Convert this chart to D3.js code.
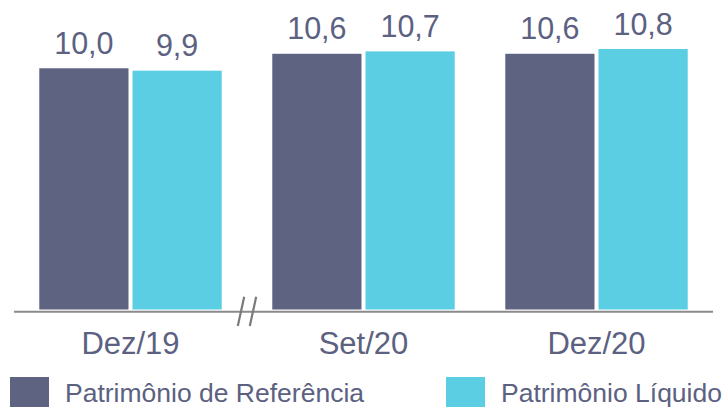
<!DOCTYPE html>
<html>
<head>
<meta charset="utf-8">
<script src="https://cdn.jsdelivr.net/npm/d3@7"></script>
<style>
  html, body { margin: 0; padding: 0; background: #fff; }
  svg { display: block; font-family: "Liberation Sans", Arial, sans-serif; }
</style>
</head>
<body>
<svg id="chart" width="723" height="407"></svg>
<script>
const categories = ["Dez/19", "Set/20", "Dez/20"];
const seriesNames = ["Patrimônio de Referência", "Patrimônio Líquido"];
const patrimonioReferencia = [10.0, 10.6, 10.6];
const patrimonioLiquido = [9.9, 10.7, 10.8];
const colors = ["#5e6381", "#5bcee3"];

const fmt = v => v.toFixed(1).replace(".", ",");
const svg = d3.select("#chart");
const textColor = "#5c6181";

const x0 = d3.scaleBand().domain(categories).range([14, 713]).paddingInner(0.217).paddingOuter(0.1085);
const x1 = d3.scaleBand().domain(seriesNames).range([0, x0.bandwidth()]).paddingInner(0.043).paddingOuter(0);
const y = d3.scaleLinear().domain([0, 12.83]).range([309.5, 0]);

const data = categories.map((c, i) => ({
  cat: c,
  values: [
    { name: seriesNames[0], v: patrimonioReferencia[i], color: colors[0] },
    { name: seriesNames[1], v: patrimonioLiquido[i], color: colors[1] }
  ]
}));

const g = svg.selectAll("g.grp").data(data).join("g")
  .attr("class", "grp")
  .attr("transform", d => `translate(${x0(d.cat)},0)`);

g.selectAll("rect").data(d => d.values).join("rect")
  .attr("x", d => x1(d.name))
  .attr("y", d => y(d.v))
  .attr("width", x1.bandwidth())
  .attr("height", d => y(0) - y(d.v))
  .attr("fill", d => d.color);

g.selectAll("text.val").data(d => d.values).join("text")
  .attr("class", "val")
  .attr("x", d => x1(d.name) + x1.bandwidth() / 2)
  .attr("y", d => y(d.v) - 14.3)
  .attr("text-anchor", "middle")
  .attr("font-size", 30.5)
  .attr("fill", textColor)
  .text(d => fmt(d.v));

// axis line
const axisY = 311.7;
const breakX = x0.range()[0] + x0.step();
svg.append("line")
  .attr("x1", 14).attr("x2", 713)
  .attr("y1", axisY).attr("y2", axisY)
  .attr("stroke", "#8a8a8a").attr("stroke-width", 2);

// break mark
[-6, 6].forEach(dx => {
  svg.append("line")
    .attr("x1", breakX + dx + 3.2).attr("y1", 296.7)
    .attr("x2", breakX + dx - 3.2).attr("y2", 326)
    .attr("stroke", "#7a7a7a").attr("stroke-width", 2.2);
});

// category labels
svg.selectAll("text.cat").data(categories).join("text")
  .attr("class", "cat")
  .attr("x", d => x0(d) + x0.bandwidth() / 2)
  .attr("y", 354)
  .attr("text-anchor", "middle")
  .attr("font-size", 31)
  .attr("fill", textColor)
  .text(d => d);

// legend
const legendX = [10, 446];
const leg = svg.selectAll("g.leg").data(seriesNames).join("g")
  .attr("class", "leg")
  .attr("transform", (d, i) => `translate(${legendX[i]},377)`);
leg.append("rect")
  .attr("width", 39).attr("height", 30)
  .attr("fill", (d, i) => colors[i]);
leg.append("text")
  .attr("x", 55).attr("y", 24.5)
  .attr("font-size", 26.5)
  .attr("fill", textColor)
  .text(d => d);
</script>
</body>
</html>
